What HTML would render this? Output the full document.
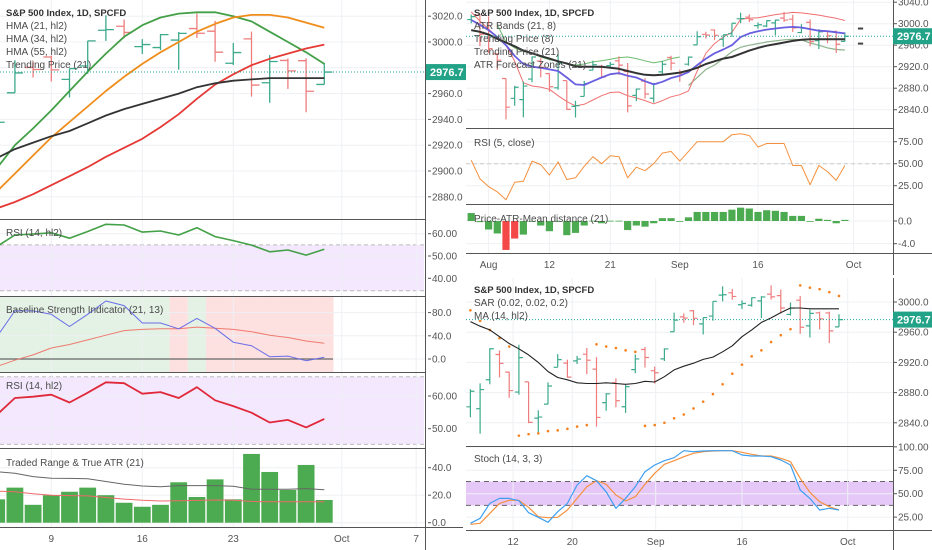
<!DOCTYPE html>
<html><head><meta charset="utf-8"><style>
html,body{margin:0;padding:0;background:#fff;}
svg{display:block;font-family:"Liberation Sans",sans-serif;}
.t{font-size:10px;fill:#4a4a4a;}
.tb{font-size:9.5px;fill:#333;font-weight:bold;}
.ax{font-size:10px;fill:#555;}
</style></head><body>
<svg id="chart" width="932" height="550" viewBox="0 0 932 550" xmlns="http://www.w3.org/2000/svg">
<defs>
<clipPath id="cL1"><rect x="0" y="0" width="426" height="219"/></clipPath>
<clipPath id="cL2"><rect x="0" y="220" width="426" height="76"/></clipPath>
<clipPath id="cL3"><rect x="0" y="297" width="426" height="75"/></clipPath>
<clipPath id="cL4"><rect x="0" y="373" width="426" height="75"/></clipPath>
<clipPath id="cL5"><rect x="0" y="449" width="426" height="78"/></clipPath>
<clipPath id="cR1"><rect x="466" y="0" width="427" height="128"/></clipPath>
<clipPath id="cR2"><rect x="466" y="129" width="427" height="75"/></clipPath>
<clipPath id="cR3"><rect x="466" y="205" width="427" height="48"/></clipPath>
<clipPath id="cB1"><rect x="466" y="278" width="427" height="168"/></clipPath>
<clipPath id="cB2"><rect x="466" y="447" width="427" height="83"/></clipPath>
</defs>
<g id="bg"></g>
<g id="grid"></g>
<g id="series"></g>
<g id="frame">
<line x1="0" y1="219.5" x2="426" y2="219.5" stroke="#555" stroke-width="1"/>
<line x1="0" y1="296.5" x2="426" y2="296.5" stroke="#555" stroke-width="1"/>
<line x1="0" y1="372.5" x2="426" y2="372.5" stroke="#555" stroke-width="1"/>
<line x1="0" y1="448.5" x2="426" y2="448.5" stroke="#555" stroke-width="1"/>
<line x1="0" y1="527.5" x2="463" y2="527.5" stroke="#555" stroke-width="1"/>
<line x1="425.5" y1="0" x2="425.5" y2="550" stroke="#555" stroke-width="1"/>
<line x1="466" y1="128.5" x2="893" y2="128.5" stroke="#555" stroke-width="1"/>
<line x1="466" y1="204.5" x2="893" y2="204.5" stroke="#555" stroke-width="1"/>
<line x1="466" y1="253.5" x2="932" y2="253.5" stroke="#555" stroke-width="1"/>
<line x1="893.5" y1="0" x2="893.5" y2="275" stroke="#555" stroke-width="1"/>
<line x1="466" y1="446.5" x2="893" y2="446.5" stroke="#555" stroke-width="1"/>
<line x1="466" y1="530.5" x2="932" y2="530.5" stroke="#555" stroke-width="1"/>
<line x1="893.5" y1="278" x2="893.5" y2="550" stroke="#555" stroke-width="1"/>
</g>
<g id="legend">
<text class="tb" x="6" y="16">S&amp;P 500 Index, 1D, SPCFD</text>
<text class="t" x="6" y="29">HMA (21, hl2)</text>
<text class="t" x="6" y="42">HMA (34, hl2)</text>
<text class="t" x="6" y="55">HMA (55, hl2)</text>
<text class="t" x="6" y="68">Trending Price (21)</text>
<text class="t" x="6" y="236">RSI (14, hl2)</text>
<text class="t" x="6" y="313">Baseline Strength Indicator (21, 13)</text>
<text class="t" x="6" y="389">RSI (14, hl2)</text>
<text class="t" x="6" y="466">Traded Range &amp; True ATR (21)</text>
<text class="tb" x="474" y="16">S&amp;P 500 Index, 1D, SPCFD</text>
<text class="t" x="474" y="29">ATR Bands (21, 8)</text>
<text class="t" x="474" y="42">Trending Price (8)</text>
<text class="t" x="474" y="55">Trending Price (21)</text>
<text class="t" x="474" y="68">ATR Forecast Zones (21)</text>
<text class="t" x="474" y="146">RSI (5, close)</text>
<text class="t" x="474" y="222">Price-ATR-Mean distance (21)</text>
<text class="tb" x="474" y="293">S&amp;P 500 Index, 1D, SPCFD</text>
<text class="t" x="474" y="306">SAR (0.02, 0.02, 0.2)</text>
<text class="t" x="474" y="319">MA (14, hl2)</text>
<text class="t" x="474" y="462">Stoch (14, 3, 3)</text>
</g>
<g id="axes"></g>
</svg>
<script>
// ---- price data (index 0 = Jul 30 ... 43 = Sep 30) ----
const openP=[3007.7,3016.2,2980.3,2943.9,2898.1,2861.2,2858.7,2897.0,2930.5,2907.1,2880.7,2894.2,2846.2,2864.7,2913.5,2919.0,2922.0,2930.9,2911.1,2866.7,2893.1,2861.3,2910.4,2937.1,2909.0,2924.7,2960.6,2980.3,2988.4,2971.0,2981.4,3009.1,3012.2,2996.4,2995.7,3001.5,3010.4,3008.4,2983.5,3002.4,2968.4,2985.7,2985.5,2967.1];
const highP=[3017.2,3017.4,3013.6,2945.5,2898.1,2884.4,2892.2,2938.7,2935.8,2907.6,2943.3,2894.2,2856.7,2893.6,2931.0,2923.6,2928.7,2939.1,2927.0,2879.3,2898.8,2890.0,2930.5,2940.4,2914.4,2938.8,2985.9,2985.0,2989.4,2979.4,3000.9,3020.7,3017.3,3002.2,3006.2,3007.8,3022.0,3016.4,2999.2,3008.0,2989.8,2987.3,2987.3,2983.8];
const lowP=[3000.9,2958.1,2945.2,2914.1,2822.1,2847.4,2825.7,2891.0,2900.2,2873.1,2877.1,2839.6,2825.5,2864.7,2913.5,2899.6,2917.9,2904.5,2835.0,2856.0,2860.6,2853.1,2905.7,2913.3,2891.9,2921.9,2960.6,2972.5,2969.4,2957.0,2975.3,3000.9,3002.9,2990.7,2993.7,2978.6,3003.2,2984.7,2982.2,2957.7,2952.9,2963.7,2945.5,2967.1];
const closeP=[3013.2,2980.4,2953.6,2932.1,2844.7,2881.8,2884.0,2938.1,2918.7,2882.7,2926.3,2840.6,2847.6,2888.7,2923.7,2900.5,2924.4,2922.9,2847.1,2878.4,2869.2,2887.9,2924.6,2926.5,2906.3,2937.8,2976.0,2978.7,2978.4,2979.4,3000.9,3009.6,3007.4,2998.0,3005.7,3006.7,3006.8,2992.1,2991.8,2966.6,2984.9,2977.6,2961.8,2976.7];
const lastPrice=2976.7;
// ---- left chart indicators (index 24..43) ----
const hma21=[2885,2902,2920,2933,2947,2962,2977,2991,3004,3013,3019,3022,3023,3023,3020,3016,3008,3000,2992,2983];
const hma34=[2870,2884,2898,2912,2926,2938,2950,2962,2973,2983,2992,3000,3008,3014,3019,3021,3021,3019,3015,3011];
const hma55=[2866,2871,2876,2882,2889,2896,2903,2911,2918,2925,2934,2944,2956,2967,2975,2982,2987,2991,2995,2998];
const trend21L=[2900,2910,2917,2922,2927,2931,2937,2943,2948,2952,2956,2960,2965,2968,2970,2971,2972,2972,2972,2972];
const rsiHl2=[50,54.2,59.4,59.8,60.4,58,61,64.2,63.9,60.7,61.2,59.4,62.7,58.7,56.9,54.9,51.9,52.7,50.4,53];
// index 25..43
const baseBlue=[38,83,83,77,56,77,100,92,62,62,52,70,53,29,23,4,5,-3,3];
const baseRed=[-13,-2,7,19,25,33,41,49,51,52,52,55,53,51,47,41,37,31,27];
const baseState=[1,1,1,1,1,1,1,1,1,1,0,1,0,0,0,0,0,0,0];
const tradedRange=[17,25.5,13,20,22.5,25.5,20,14.5,11.6,13,29.4,18.7,31.5,17,50,36.9,23.8,42,16.5];
const atrGray=[37,36,33.5,32.3,32.2,32,30,28,26.7,26.2,27,27,27,26.5,24.3,24.3,24.3,24.8,24];
const atrRed=[23,22.5,21,20,19.7,19.5,18.3,17.2,16.3,15.8,16,16.2,16.5,16.3,15.5,15.3,15.3,15.3,15.3];
// ---- top-right indicators (index 0..43) ----
const pinkBand=[3022,3005,2990,2975,2960,2930,2890,2884,2882,2878,2866,2855,2847,2850,2858,2866,2872,2873,2866,2862,2857,2851,2857,2864,2868,2875,2912,2945,2963,2975,2984,3008,3010,3011,3014,3017,3019,3021,3020,3018,3016,3013,3010,3006];
const greenUpper=[2998,2966,2955,2948,2945,2938,2933,2930,2926,2923,2925,2929,2931,2934,2937,2938,2935,2931,2927,2930,2935,2938]; // idx 3..24
const greenLower=[2885,2900,2915,2923,2935,2948,2956,2960,2963,2966,2968,2970,2971,2970,2964,2960,2955,2952,2951]; // idx 25..43
const trend8=[3007,2998,2988,2975,2960,2940,2925,2920,2918,2915,2912,2900,2887,2886,2893,2900,2906,2908,2903,2900,2893,2887,2892,2899,2903,2910,2923,2935,2945,2952,2960,2975,2982,2986,2989,2991,2993,2994,2993,2990,2987,2986,2984,2982];
const trend21R=[2988,2985,2980,2972,2965,2958,2950,2945,2940,2935,2930,2926,2921,2920,2920,2920,2918,2916,2912,2908,2905,2904,2905,2907,2909,2913,2918,2925,2930,2935,2938,2944,2950,2955,2959,2962,2965,2968,2970,2971,2971,2971,2971,2971];
const forecastZones=[2991,2963];
const rsi5=[54,33,24,18,9,29,30,53,49,37,52,32,34,47,58,50,59,58,34,46,42,50,62,64,53,64,75,75,75,75,83,84,82,69,73,73,73,48,48,26,48,41,31,48];
const distHist=[1.4,-0.2,-1.5,-2.2,-5.1,-3.1,-2.4,-0.1,-0.8,-1.8,-0.1,-2.5,-2.1,-0.8,0.05,-0.4,0.05,0.05,-1.6,-0.8,-1.0,-0.4,0.5,0.5,0,0.65,1.6,1.6,1.6,1.6,2.0,2.35,2.2,1.6,1.9,1.8,1.6,0.9,0.9,-0.1,0.4,0.2,-0.4,0.2];
// ---- bottom-right indicators (index 5..43) ----
const sar=[2989,2975,2963,2952,2941,2823,2825,2826,2829,2830,2832,2835,2837,2944,2941,2939,2936,2934,2836,2837,2840,2846,2851,2859,2868,2878,2891,2905,2917,2928,2936,2947,2956,2964,3022,3019,3017,3013,3008];
const ma14=[2974,2968,2963,2954,2945,2938,2930,2920,2908,2900,2897,2893,2892,2892,2893,2892,2891,2892,2895,2894,2901,2910,2915,2919,2924,2927,2934,2942,2954,2963,2973,2979,2986,2992,2992,2991,2991,2991,2991];
const stochK=[18.4,23.7,39.7,45,45,42.5,29.7,24.8,19.5,30.8,39.7,59.3,69.2,63.9,52,34.4,45,57.5,73.5,80.6,85.2,88.4,95.9,94.8,95.6,95.9,95.9,95.9,91.3,90.2,90.2,89.5,86,80.6,54,45,32.6,34.4,32.6];
const stochD=[17.3,18.4,29,39.7,43,43,35.5,25.5,24.4,24.8,32.6,45,57.5,63.9,60,48.6,42.2,46.8,60,71.8,81.4,85.2,89.5,93.1,94.8,95.6,95.9,95.9,94.2,92,90.2,90.2,87.8,84.2,66.4,51.5,41.5,36.1,32.6];
// ---- ticks ----
const leftPriceTicks=[3020,3000,2980,2960,2940,2920,2900,2880];
const leftRsiTicks=[60,50,40];
const baseTicks=[80,40,0];
const leftRsi2Ticks=[60,50];
const rangeTicks=[40,20,0];
const leftTimeLabels=["9","16","23","Oct","7"];
const leftTimeIdx=[28,33,38,43.96,48.05];
const rPriceTicks=[3040,3000,2960,2920,2880,2840];
const rsi5Ticks=[75,50,25];
const distTicks=[0,-4];
const rTimeLabels=["Aug","12","21","Sep","16","Oct"];
const rTimeIdx=[2,9,16,24,33,44];
const bPriceTicks=[3000,2960,2920,2880,2840];
const stochTicks=[100,75,50,25];
const bTimeLabels=["12","20","Sep","16","Oct"];
const bTimeIdx=[9.4,15.5,24.1,33,43.9];

// ---- scales ----
const xL=i=>51.3+18.2*(i-28);
const yL=v=>42+(3000-v)*1.29;
const yLR=v=>256-(v-50)*2.23;
const yLB=v=>359-v*0.58;
const yLR2=v=>428.7-(v-50)*3.27;
const yLT=v=>522.7-v*1.375;
const xR=i=>488.6+8.69*(i-2);
const yR=v=>23.7+(3000-v)*0.5375;
const yR5=v=>163.7-(v-50)*0.88;
const yRD=v=>221-v*5.67;
const xB=i=>839-9.7*(43-i);
const yB=v=>302+(3000-v)*0.755;
const yS=v=>493.7-(v-50)*0.937;

const NS='http://www.w3.org/2000/svg';
const svg=document.getElementById('chart');
const G={bg:document.getElementById('bg'),grid:document.getElementById('grid'),series:document.getElementById('series'),axes:document.getElementById('axes')};
function mk(tag,attrs,parent){const e=document.createElementNS(NS,tag);for(const k in attrs)e.setAttribute(k,attrs[k]);parent.appendChild(e);return e;}
function group(clip,name){const g=mk('g',{'clip-path':'url(#'+clip+')'},G.series);


return g;}
function poly(arr,start,xf,yf,color,w,parent,name,dash){
  const pts=arr.map((v,k)=>xf(start+k).toFixed(1)+','+yf(v).toFixed(1)).join(' ');
  const el=mk('polyline',{points:pts,fill:'none',stroke:color,'stroke-width':w,'stroke-linejoin':'round'},parent);
  if(dash)el.setAttribute('stroke-dasharray',dash);
  
  
  return el;
}
function ohlc(i,xf,yf,tick,parent,w){
  const up=closeP[i]>=openP[i];const c=up?'#3daa8c':'#ee7d7d';const x=xf(i);
  const el=mk('path',{d:`M${x},${yf(highP[i])}V${yf(lowP[i])}M${x-tick},${yf(openP[i])}H${x}M${x},${yf(closeP[i])}H${x+tick}`,stroke:c,'stroke-width':w,fill:'none'},parent);
  
  
}
function hgrid(ticks,yf,x1,x2){ticks.forEach(t=>{const el=mk('line',{x1:x1,x2:x2,y1:yf(t),y2:yf(t),stroke:'#eef0f4','stroke-width':1},G.grid);

});}
function vgrid(idx,xf,y1,y2){idx.forEach(i=>{const el=mk('line',{x1:xf(i),x2:xf(i),y1:y1,y2:y2,stroke:'#eef0f4','stroke-width':1},G.grid);

});}
function yLabels(ticks,yf,x,dec,name){ticks.forEach(t=>{const el=mk('text',{x:x,y:yf(t)+3.5,class:'ax'},G.axes);el.textContent=t.toFixed(dec);


const tk=mk('line',{x1:x-4,x2:x-1,y1:yf(t),y2:yf(t),stroke:'#555'},G.axes);

});}
function xLabels(labels,idx,xf,y,name){labels.forEach((l,k)=>{const el=mk('text',{x:xf(idx[k]),y:y,class:'ax','text-anchor':'middle'},G.axes);el.textContent=l;

});}
function priceTag(x,y){const r=mk('rect',{x:x,y:y-8,width:40,height:16,fill:'#22a388'},G.axes);


const t=mk('text',{x:x+4,y:y+4,'font-size':'11','font-weight':'bold',fill:'#fff'},G.axes);t.textContent=lastPrice.toFixed(1);

}

// ---------- LEFT CHART ----------
{const r=mk('rect',{x:0,y:yLR(55),width:424,height:yLR(34.4)-yLR(55),fill:'#f3e8fd'},G.bg);


[55,34.4].forEach(v=>{const l=mk('line',{x1:0,x2:424,y1:yLR(v),y2:yLR(v),stroke:'#bbb','stroke-dasharray':'4,3'},G.bg);

});
const r2=mk('rect',{x:0,y:yLR2(65.9),width:424,height:yLR2(45.2)-yLR2(65.9),fill:'#f3e8fd'},G.bg);


[65.9,45.2].forEach(v=>{const l=mk('line',{x1:0,x2:424,y1:yLR2(v),y2:yLR2(v),stroke:'#bbb','stroke-dasharray':'4,3'},G.bg);

});
const gB=mk('g',{'clip-path':'url(#cL3)'},G.bg);
baseState.forEach((s,k)=>{const i=25+k;const el=mk('rect',{x:xL(i)-9.1,y:297,width:18.3,height:75,fill:s?'#e3f2e4':'#fde0e0'},gB);

});}
hgrid(leftPriceTicks,yL,0,426);
hgrid(leftRsiTicks,yLR,0,426);hgrid(baseTicks,yLB,0,426);hgrid(leftRsi2Ticks,yLR2,0,426);hgrid(rangeTicks,yLT,0,426);
vgrid(leftTimeIdx,xL,0,527);

{const g=group('cL1','left-price-panel');
for(let i=24;i<=43;i++)ohlc(i,xL,yL,8,g,1.3);
poly(hma21,24,xL,yL,'#43a047',1.8,g,'hma-21-line');
poly(hma34,24,xL,yL,'#f08c1a',1.8,g,'hma-34-line');
poly(hma55,24,xL,yL,'#e53935',1.8,g,'hma-55-line');
poly(trend21L,24,xL,yL,'#333',1.8,g,'trending-price-21-line');
const d=mk('line',{x1:0,x2:426,y1:yL(lastPrice),y2:yL(lastPrice),stroke:'#26a69a','stroke-dasharray':'1,2'},g);

}
{const g=group('cL2','rsi-green-panel');poly(rsiHl2,24,xL,yLR,'#43a047',1.6,g,'rsi-green-line');}
{const g=group('cL3','baseline-panel');
const z=mk('line',{x1:0,x2:333,y1:yLB(0),y2:yLB(0),stroke:'#666','stroke-width':1.3},g);


poly(baseRed,25,xL,yLB,'#ef7a6e',1,g,'baseline-signal-line');
poly(baseBlue,25,xL,yLB,'#6a6ee8',1,g,'baseline-strength-line');}
{const g=group('cL4','rsi-red-panel');poly(rsiHl2,24,xL,yLR2,'#e0283a',1.8,g,'rsi-red-line');}
{const g=group('cL5','traded-range-panel');
tradedRange.forEach((v,k)=>{const i=25+k;const el=mk('rect',{x:xL(i)-8.4,y:yLT(v),width:16.8,height:yLT(0)-yLT(v),fill:'#4caa50'},g);

});
poly(atrGray,25,xL,yLT,'#666',1,g,'true-atr-line');
poly(atrRed,25,xL,yLT,'#ef6a6a',1,g,'atr-signal-line');}
yLabels(leftPriceTicks,yL,432,1,'left-price-tick');
yLabels(leftRsiTicks,yLR,432,2,'rsi-green-tick');
yLabels(baseTicks,yLB,432,1,'baseline-tick');
yLabels(leftRsi2Ticks,yLR2,432,2,'rsi-red-tick');
yLabels(rangeTicks,yLT,432,1,'traded-range-tick');
xLabels(leftTimeLabels,leftTimeIdx,xL,542,'left-time-label');
priceTag(426,yL(lastPrice));

// ---------- TOP RIGHT ----------
hgrid(rPriceTicks,yR,466,893);hgrid(rsi5Ticks,yR5,466,893);hgrid(distTicks,yRD,466,893);
vgrid(rTimeIdx,xR,0,253);
{const g=group('cR1','top-right-price-panel');
poly(greenUpper,3,xR,yR,'#6dbb6d',1,g,'atr-band-upper-line');
poly(greenLower,25,xR,yR,'#8fb58f',1.2,g,'atr-band-lower-line');
poly(pinkBand,0,xR,yR,'#f07070',1,g,'atr-band-pink-line');
for(let i=0;i<=43;i++)ohlc(i,xR,yR,4,g,1.2);
poly(trend8,0,xR,yR,'#6a5ee0',1.8,g,'trending-price-8-line');
poly(trend21R,0,xR,yR,'#333',2,g,'trending-price-21-right-line');
forecastZones.forEach(v=>{const el=mk('line',{x1:xR(44.5),x2:xR(45.1),y1:yR(v),y2:yR(v),stroke:'#444','stroke-width':2},g);

});
const d=mk('line',{x1:466,x2:893,y1:yR(lastPrice),y2:yR(lastPrice),stroke:'#26a69a','stroke-dasharray':'1,2'},g);

}
{const g=group('cR2','rsi5-panel');
const m=mk('line',{x1:466,x2:893,y1:yR5(50),y2:yR5(50),stroke:'#ccc','stroke-dasharray':'4,3'},g);


poly(rsi5,0,xR,yR5,'#f5913e',1,g,'rsi5-line');}
{const g=group('cR3','distance-panel');
distHist.forEach((v,i)=>{const y1=Math.min(yRD(v),yRD(0)),h=Math.max(Math.abs(yRD(v)-yRD(0)),0.8);
const el=mk('rect',{x:xR(i)-3.6,y:y1,width:7.2,height:h,fill:v<-3?'#f44848':'#4caa50'},g);

});}
yLabels(rPriceTicks,yR,898,1,'top-right-price-tick');
yLabels(rsi5Ticks,yR5,898,2,'rsi5-tick');
yLabels(distTicks,yRD,898,1,'distance-tick');
xLabels(rTimeLabels,rTimeIdx,xR,268,'top-right-time-label');
priceTag(893,yR(lastPrice));

// ---------- BOTTOM RIGHT ----------
{const r=mk('rect',{x:466,y:yS(63),width:427,height:yS(37.5)-yS(63),fill:'#e6c8f8'},G.bg);


[63,37.5].forEach(v=>{const l=mk('line',{x1:466,x2:893,y1:yS(v),y2:yS(v),stroke:'#666','stroke-dasharray':'5,4'},G.bg);

});}
hgrid(bPriceTicks,yB,466,893);hgrid(stochTicks,yS,466,893);
vgrid(bTimeIdx,xB,278,530);
{const g=group('cB1','bottom-right-price-panel');
for(let i=5;i<=43;i++)ohlc(i,xB,yB,4,g,1.2);
sar.forEach((v,k)=>{const el=mk('circle',{cx:xB(5+k),cy:yB(v),r:1.3,fill:'#f5801e'},g);

});
poly(ma14,5,xB,yB,'#222',1.1,g,'ma-14-line');
const d=mk('line',{x1:466,x2:893,y1:yB(lastPrice),y2:yB(lastPrice),stroke:'#26a69a','stroke-dasharray':'1,2'},g);

}
{const g=group('cB2','stoch-panel');
poly(stochD,5,xB,yS,'#f5913e',1.2,g,'stoch-d-line');
poly(stochK,5,xB,yS,'#3d9ff0',1.2,g,'stoch-k-line');}
yLabels(bPriceTicks,yB,898,1,'bottom-right-price-tick');
yLabels(stochTicks,yS,898,2,'stoch-tick');
xLabels(bTimeLabels,bTimeIdx,xB,545,'bottom-right-time-label');
priceTag(893,yB(lastPrice));
</script>
</body></html>
